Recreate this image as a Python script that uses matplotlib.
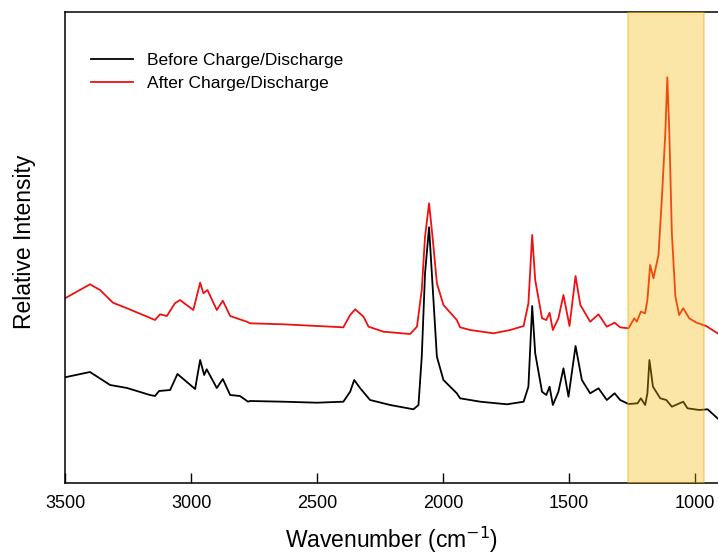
import numpy as np
import matplotlib
matplotlib.use("Agg")
import matplotlib.pyplot as plt

plt.rcParams["font.family"] = ["Liberation Sans", "DejaVu Sans"]

# ---- spectra (wavenumber in cm-1, intensity in a.u.)
wn_before = [3500, 3401, 3321, 3254, 3163, 3143, 3127, 3083, 3054, 2984,
             2964, 2948, 2938, 2898, 2874, 2845, 2806, 2774, 2766, 2634,
             2501, 2396, 2369, 2353, 2329, 2290, 2210, 2118, 2098, 2085,
             2072, 2056, 2041, 2025, 1999, 1946, 1933, 1893, 1853, 1747,
             1681, 1662, 1647, 1635, 1608, 1591, 1578, 1565, 1543, 1523,
             1503, 1475, 1450, 1417, 1384, 1351, 1320, 1298, 1265, 1229,
             1216, 1199, 1190, 1182, 1168, 1139, 1115, 1093, 1048, 1031,
             984, 951, 912]
int_before = [105.7, 111.0, 98.0, 95.0, 88.0, 87.0, 92.0, 93.0, 109.0, 94.0,
              123.0, 108.0, 113.7, 95.0, 104.0, 88.0, 87.0, 81.3, 82.0, 81.3,
              80.3, 81.3, 91.3, 103.0, 94.7, 83.0, 78.0, 73.7, 78.0, 126.3,
              209.7, 255.7, 193.0, 126.3, 103.0, 89.7, 84.7, 83.0, 81.3, 78.7,
              81.3, 96.3, 177.0, 129.7, 91.3, 88.0, 96.3, 78.0, 91.3, 114.7,
              86.3, 137.0, 103.0, 89.7, 94.7, 83.0, 89.7, 83.0, 79.0, 79.7,
              84.7, 78.0, 89.7, 123.0, 96.3, 84.7, 83.0, 76.3, 81.3, 74.7,
              73.0, 73.7, 64.7]

wn_after = [3500, 3401, 3361, 3310, 3254, 3190, 3143, 3123, 3096, 3064,
            3044, 2991, 2964, 2951, 2935, 2898, 2874, 2845, 2779, 2766,
            2634, 2501, 2396, 2369, 2349, 2316, 2296, 2237, 2131, 2104,
            2085, 2072, 2056, 2041, 2025, 1999, 1946, 1933, 1893, 1801,
            1734, 1681, 1662, 1647, 1635, 1608, 1591, 1578, 1565, 1543,
            1523, 1499, 1475, 1456, 1417, 1384, 1351, 1320, 1298, 1265,
            1242, 1232, 1216, 1199, 1190, 1179, 1166, 1146, 1133, 1119,
            1111, 1103, 1093, 1079, 1064, 1048, 1024, 995, 957, 912]
int_after = [184.7, 198.7, 193.0, 180.3, 174.7, 168.0, 163.0, 168.7, 167.0, 179.7,
             183.0, 173.0, 200.3, 189.7, 193.0, 173.0, 182.3, 167.0, 161.3, 159.7,
             158.7, 157.0, 155.7, 168.0, 173.7, 166.3, 156.3, 151.3, 149.0, 156.3,
             193.0, 246.3, 279.7, 243.0, 199.7, 178.0, 163.0, 155.7, 153.0, 149.7,
             153.0, 157.0, 179.7, 248.0, 203.0, 164.7, 163.0, 170.3, 153.0, 164.7,
             188.0, 157.0, 207.0, 178.0, 161.3, 168.7, 156.3, 160.3, 155.7, 154.7,
             164.7, 161.3, 171.3, 169.7, 183.0, 218.0, 204.7, 228.0, 283.0, 349.7,
             405.7, 349.7, 249.7, 186.3, 168.0, 174.7, 164.7, 160.3, 157.0, 149.7]

highlight = (1265, 967)
x_ticks = [3500, 3000, 2500, 2000, 1500, 1000]

fig = plt.figure(figsize=(7.18, 5.56), dpi=100)
ax = fig.add_axes([65 / 718, 73 / 556, 653 / 718, 471 / 556])

ax.plot(wn_before, int_before, color="black", lw=1.3, label="Before Charge/Discharge")
ax.plot(wn_after, int_after, color="#ee1111", lw=1.3, label="After Charge/Discharge")
ax.axvspan(highlight[0], highlight[1], facecolor="#f6b806", alpha=0.35,
           edgecolor="#f0a800", lw=1.5, zorder=3)

ax.set_xlim(3500, 910)
ax.set_ylim(0, 471)
ax.set_xticks(x_ticks)
ax.set_yticks([])
ax.tick_params(axis="x", direction="in", length=7, width=1, labelsize=13, pad=9)
ax.spines["right"].set_visible(False)
for s in ("left", "bottom", "top"):
    ax.spines[s].set_linewidth(1.1)

ax.set_xlabel("Wavenumber (cm$^{-1}$)", fontsize=16.5, labelpad=9)
ax.set_ylabel("Relative Intensity", fontsize=16.5)
ax.yaxis.set_label_coords(-0.044, 0.513)

ax.legend(loc="upper left", bbox_to_anchor=(0.04, 0.914), frameon=False,
          fontsize=12.5, handlelength=2.4, handletextpad=0.8, labelspacing=0.45,
          borderpad=0, borderaxespad=0)

fig.savefig("out.png", dpi=100)
